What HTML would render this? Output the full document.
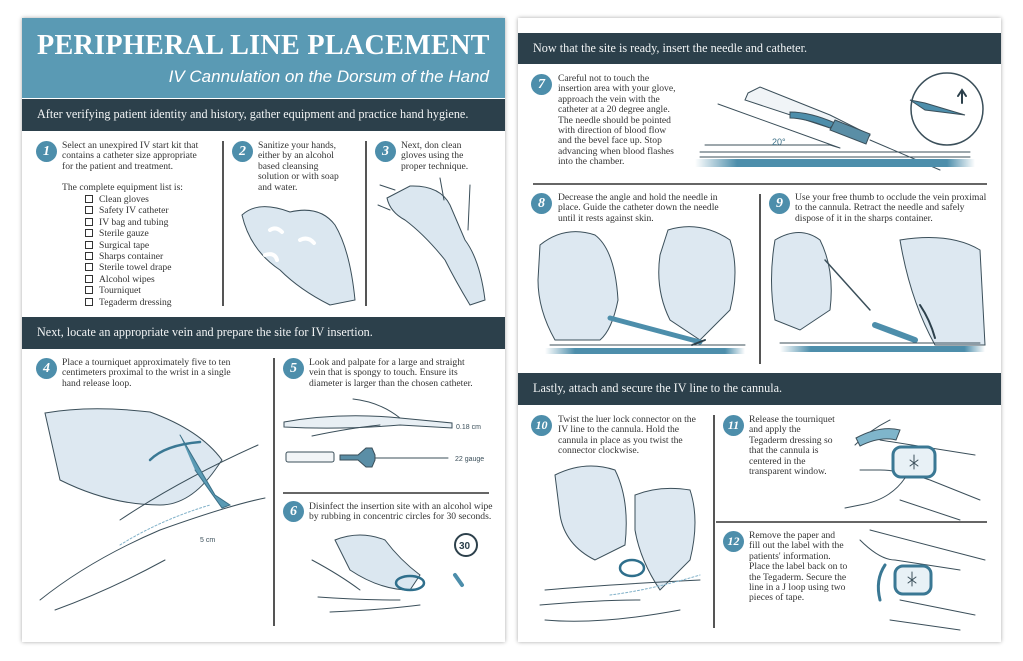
<!DOCTYPE html>
<html><head><meta charset="utf-8"><style>
*{margin:0;padding:0;box-sizing:border-box}
body{width:1023px;height:661px;background:#fff;position:relative;overflow:hidden;font-family:"Liberation Serif",serif;color:#2d3a40}
.pg{position:absolute;background:#fff;box-shadow:0 0 4px rgba(0,0,0,.35)}
.band{position:absolute;background:#2c404b;color:#f2f4f5;font-size:12.2px;line-height:31px;padding-left:15px;white-space:nowrap}
.t{position:absolute;font-size:9.6px;line-height:10.4px;white-space:nowrap;color:#333}
.n{position:absolute;width:21px;height:21px;border-radius:50%;background:#4d8eab;color:#fff;font-style:italic;font-weight:bold;font-size:14px;text-align:center;line-height:21px}
.vl{position:absolute;width:1.5px;background:#555}
.hl{position:absolute;height:1.5px;background:#666}
.cb{display:inline-block;width:8px;height:8px;border:1px solid #333;margin-right:6px;vertical-align:-1px}
</style></head><body>

<div class="pg" style="left:22px;top:18px;width:483px;height:624px"></div>
<div class="pg" style="left:518px;top:18px;width:483px;height:624px"></div>

<!-- LEFT PAGE -->
<div style="position:absolute;left:22px;top:18px;width:483px;height:80px;background:#5a9ab4"></div>
<div style="position:absolute;left:37px;top:29px;font-size:29px;font-weight:bold;color:#fff;letter-spacing:0.3px;white-space:nowrap;transform:scaleX(0.97);transform-origin:left">PERIPHERAL LINE PLACEMENT</div>
<div style="position:absolute;right:534px;top:67px;font-size:17px;font-style:italic;color:#fff;white-space:nowrap;font-family:'Liberation Sans',sans-serif">IV Cannulation on the Dorsum of the Hand</div>
<div class="band" style="left:22px;top:99px;width:483px;height:32px">After verifying patient identity and history, gather equipment and practice hand hygiene.</div>

<div class="n" style="left:36px;top:141px">1</div>
<div class="t" style="left:62px;top:141px">Select an unexpired IV start kit that<br>contains a catheter size appropriate<br>for the patient and treatment.</div>
<div class="t" style="left:62px;top:183px">The complete equipment list is:</div>
<div class="t" style="left:85px;top:194px;line-height:11.4px"><span class="cb"></span>Clean gloves<br><span class="cb"></span>Safety IV catheter<br><span class="cb"></span>IV bag and tubing<br><span class="cb"></span>Sterile gauze<br><span class="cb"></span>Surgical tape<br><span class="cb"></span>Sharps container<br><span class="cb"></span>Sterile towel drape<br><span class="cb"></span>Alcohol wipes<br><span class="cb"></span>Tourniquet<br><span class="cb"></span>Tegaderm dressing</div>
<div class="vl" style="left:222px;top:141px;height:165px"></div>
<div class="n" style="left:232px;top:141px">2</div>
<div class="t" style="left:258px;top:141px">Sanitize your hands,<br>either by an alcohol<br>based cleansing<br>solution or with soap<br>and water.</div>
<div class="vl" style="left:365px;top:141px;height:165px"></div>
<div class="n" style="left:375px;top:141px">3</div>
<div class="t" style="left:401px;top:141px">Next, don clean<br>gloves using the<br>proper technique.</div>

<div class="band" style="left:22px;top:317px;width:483px;height:32px">Next, locate an appropriate vein and prepare the site for IV insertion.</div>
<div class="n" style="left:36px;top:358px">4</div>
<div class="t" style="left:62px;top:358px">Place a tourniquet approximately five to ten<br>centimeters proximal to the wrist in a single<br>hand release loop.</div>
<div class="vl" style="left:273px;top:358px;height:268px"></div>
<div class="n" style="left:283px;top:358px">5</div>
<div class="t" style="left:309px;top:358px">Look and palpate for a large and straight<br>vein that is spongy to touch. Ensure its<br>diameter is larger than the chosen catheter.</div>
<div class="hl" style="left:283px;top:492px;width:206px"></div>
<div class="n" style="left:283px;top:501px">6</div>
<div class="t" style="left:309px;top:502px">Disinfect the insertion site with an alcohol wipe<br>by rubbing in concentric circles for 30 seconds.</div>

<!-- RIGHT PAGE -->
<div class="band" style="left:518px;top:33px;width:483px;height:31px">Now that the site is ready, insert the needle and catheter.</div>
<div class="n" style="left:531px;top:74px">7</div>
<div class="t" style="left:558px;top:74px">Careful not to touch the<br>insertion area with your glove,<br>approach the vein with the<br>catheter at a 20 degree angle.<br>The needle should be pointed<br>with direction of blood flow<br>and the bevel face up. Stop<br>advancing when blood flashes<br>into the chamber.</div>
<div class="hl" style="left:533px;top:183px;width:454px"></div>
<div class="n" style="left:531px;top:193px">8</div>
<div class="t" style="left:558px;top:193px">Decrease the angle and hold the needle in<br>place. Guide the catheter down the needle<br>until it rests against skin.</div>
<div class="vl" style="left:759px;top:194px;height:170px"></div>
<div class="n" style="left:769px;top:193px">9</div>
<div class="t" style="left:795px;top:193px">Use your free thumb to occlude the vein proximal<br>to the cannula. Retract the needle and safely<br>dispose of it in the sharps container.</div>

<div class="band" style="left:518px;top:373px;width:483px;height:32px">Lastly, attach and secure the IV line to the cannula.</div>
<div class="n" style="left:531px;top:415px;font-size:12px">10</div>
<div class="t" style="left:558px;top:415px">Twist the luer lock connector on the<br>IV line to the cannula. Hold the<br>cannula in place as you twist the<br>connector clockwise.</div>
<div class="vl" style="left:713px;top:415px;height:213px"></div>
<div class="n" style="left:723px;top:415px;font-size:12px">11</div>
<div class="t" style="left:749px;top:415px">Release the tourniquet<br>and apply the<br>Tegaderm dressing so<br>that the cannula is<br>centered in the<br>transparent window.</div>
<div class="hl" style="left:716px;top:521px;width:271px"></div>
<div class="n" style="left:723px;top:531px;font-size:12px">12</div>
<div class="t" style="left:749px;top:531px">Remove the paper and<br>fill out the label with the<br>patients' information.<br>Place the label back on to<br>the Tegaderm. Secure the<br>line in a J loop using two<br>pieces of tape.</div>

<svg width="1023" height="661" style="position:absolute;left:0;top:0" fill="none" stroke="#3b4f5a" stroke-width="1" stroke-linecap="round">
<defs>
<linearGradient id="sk" x1="0" x2="1"><stop offset="0" stop-color="#4d8eab" stop-opacity="0"/><stop offset=".15" stop-color="#4d8eab"/><stop offset=".9" stop-color="#4d8eab"/><stop offset="1" stop-color="#4d8eab" stop-opacity="0"/></linearGradient>
</defs>
<path d="M242 215 Q258 200 290 212 Q320 205 335 225 Q350 250 355 300 L330 305 Q300 290 280 270 Q250 250 242 215Z" fill="#dbe7f0"/>
<path d="M270 230 q6-4 12 2 M300 240 q8-4 14 3 M265 255 q10-3 12 5" stroke="#fff" stroke-width="4"/>
<path d="M387 198 L410 186 Q440 185 450 205 L465 240 Q480 260 485 300 L470 305 Q455 280 445 260 Q425 235 405 220 Q390 212 387 198Z" fill="#dbe7f0"/>
<path d="M380 185 L395 190 M378 205 L390 210 M440 178 L444 200 M470 185 L468 230"/>
<path d="M45 413 Q90 405 150 412 Q200 430 222 460 L215 470 Q190 505 160 505 Q110 505 60 480 Z" fill="#dde8f1"/>
<path d="M40 600 Q90 560 160 530 Q230 505 265 498 M55 610 Q110 590 165 560 M120 520 Q180 480 258 445" />
<path d="M180 435 L215 495 L230 505 L222 508 L195 470" fill="#5a9ab4" stroke="#3b6f86"/>
<path d="M200 442 Q165 445 150 460" stroke="#3a7894" stroke-width="2.5"/>
<path d="M120 545 Q160 520 210 505" stroke="#7fb0c8" stroke-dasharray="2 2"/>
<text x="200" y="542" font-size="7" fill="#3b4f5a" stroke="none" font-family="Liberation Sans">5 cm</text>
<path d="M284 422 Q340 412 400 418 L452 423 L452 428 L400 425 Q340 430 284 427Z" fill="#e8eff4"/>
<path d="M353 399 Q380 402 400 418 M312 436 Q350 428 380 425"/>
<text x="456" y="429" font-size="7" fill="#3b4f5a" stroke="none" font-family="Liberation Sans">0.18 cm</text>
<rect x="286" y="452" width="48" height="10" rx="2" fill="#f2f5f7"/>
<path d="M340 455 h18 l8 -7 h6 l3 7 v5 l-3 7 h-6 l-8 -7 h-18z" fill="#5a8ea6"/>
<path d="M375 458 H448"/>
<text x="455" y="461" font-size="7" fill="#3b4f5a" stroke="none" font-family="Liberation Sans">22 gauge</text>
<path d="M335 540 Q360 530 385 540 Q400 560 420 575 L410 590 Q380 590 350 570 Z" fill="#dbe7f0"/>
<path d="M312 560 Q340 575 360 590 M318 597 Q360 600 400 600 M330 612 Q380 610 420 605"/>
<ellipse cx="410" cy="583" rx="14" ry="7" stroke="#2f6f8c" stroke-width="2.5"/>
<path d="M455 575 L462 585" stroke="#4d8eab" stroke-width="4"/>
<circle cx="466" cy="545" r="11" stroke="#2c404b" stroke-width="2"/>
<text x="459" y="549" font-size="10" font-weight="bold" fill="#2c404b" stroke="none" font-family="Liberation Sans">30</text>
<path d="M718 104 L840 148 M705 145 H830 L840 148"/>
<text x="772" y="145" font-size="9" fill="#3b6f86" stroke="none" font-family="Liberation Sans">20°</text>
<path d="M748 93 L760 87 L830 115 L870 135 L865 142 L830 128 L745 100Z" fill="#f0f4f7"/>
<path d="M790 112 Q810 112 835 123 L830 128 Q805 118 790 118Z" fill="#4d8eab"/>
<path d="M835 120 L870 134 L866 144 L830 130Z" fill="#5a8ea6"/>
<path d="M870 140 L940 170"/>
<path d="M700 152 H970 M700 157 H970"/>
<rect x="695" y="159" width="280" height="8" fill="url(#sk)" stroke="none"/>
<circle cx="947" cy="109" r="36" fill="#fff" stroke-width="1.5"/>
<path d="M910 100 L925 103 L965 115 L925 110 Z" fill="#4d8eab"/>
<path d="M962 103 V92 M958 96 L962 90 L966 96" stroke="#2c404b" stroke-width="2"/>
<path d="M540 245 Q565 225 595 235 Q615 250 618 300 Q612 330 600 340 L555 340 Q538 310 538 280Z" fill="#dde8f1"/>
<path d="M668 230 Q700 220 730 240 Q740 270 730 310 L700 340 L670 320 Q655 290 660 255Z" fill="#dde8f1"/>
<path d="M610 318 L700 342" stroke="#4d8eab" stroke-width="5"/>
<path d="M692 345 L705 340" stroke="#2c404b" stroke-width="2"/>
<rect x="545" y="348" width="200" height="6" fill="url(#sk)" stroke="none"/>
<path d="M550 345 H745"/>
<path d="M775 240 Q800 225 820 240 Q835 270 830 310 L800 330 L775 320 Q768 280 775 240Z" fill="#dde8f1"/>
<path d="M900 240 Q950 232 980 250 L985 345 L935 345 Q910 300 900 240Z" fill="#dde8f1"/>
<path d="M825 260 L870 310" stroke-width="1.5"/>
<path d="M875 325 L915 340" stroke="#4d8eab" stroke-width="6"/>
<path d="M920 305 Q930 320 935 338" stroke="#2c404b" stroke-width="2"/>
<rect x="780" y="346" width="205" height="6" fill="url(#sk)" stroke="none"/>
<path d="M780 343 H980"/>
<path d="M555 475 Q585 460 615 470 Q630 500 625 545 L595 560 Q565 545 560 515Z" fill="#dde8f1"/>
<path d="M635 495 Q660 485 690 490 Q700 520 690 560 L660 590 Q640 560 635 530Z" fill="#dde8f1"/>
<path d="M545 590 Q600 585 700 580 M540 605 Q600 600 640 600 M545 620 Q600 625 680 610"/>
<ellipse cx="632" cy="568" rx="12" ry="8" stroke="#2f6f8c" stroke-width="2.5"/>
<path d="M610 595 Q650 590 700 575" stroke="#7fb0c8" stroke-dasharray="2 2"/>
<path d="M855 445 Q870 430 890 420 M860 470 L880 470 Q900 470 930 480 L980 500 M900 500 L960 520 M880 440 L975 455"/>
<path d="M856 438 Q880 425 900 430 L896 440 Q880 436 860 446Z" fill="#7fb5cb"/>
<rect x="893" y="447" width="42" height="30" rx="8" fill="#e8f1f6" stroke="#3a7894" stroke-width="3"/>
<path d="M914 455 l0 14 M910 460 l8 6 M918 460 l-8 6"/>
<path d="M905 478 Q890 500 860 505 L845 508"/>
<path d="M860 540 Q880 560 895 560 L960 570 M900 600 L975 615 M890 620 L960 630 M870 530 L985 560"/>
<rect x="895" y="566" width="36" height="28" rx="8" fill="#e8f1f6" stroke="#3a7894" stroke-width="3"/>
<path d="M912 572 l0 14 M908 577 l8 6 M916 577 l-8 6"/>
<path d="M880 600 Q875 580 885 565" stroke="#3a7894" stroke-width="3"/>
</svg>
</body></html>
